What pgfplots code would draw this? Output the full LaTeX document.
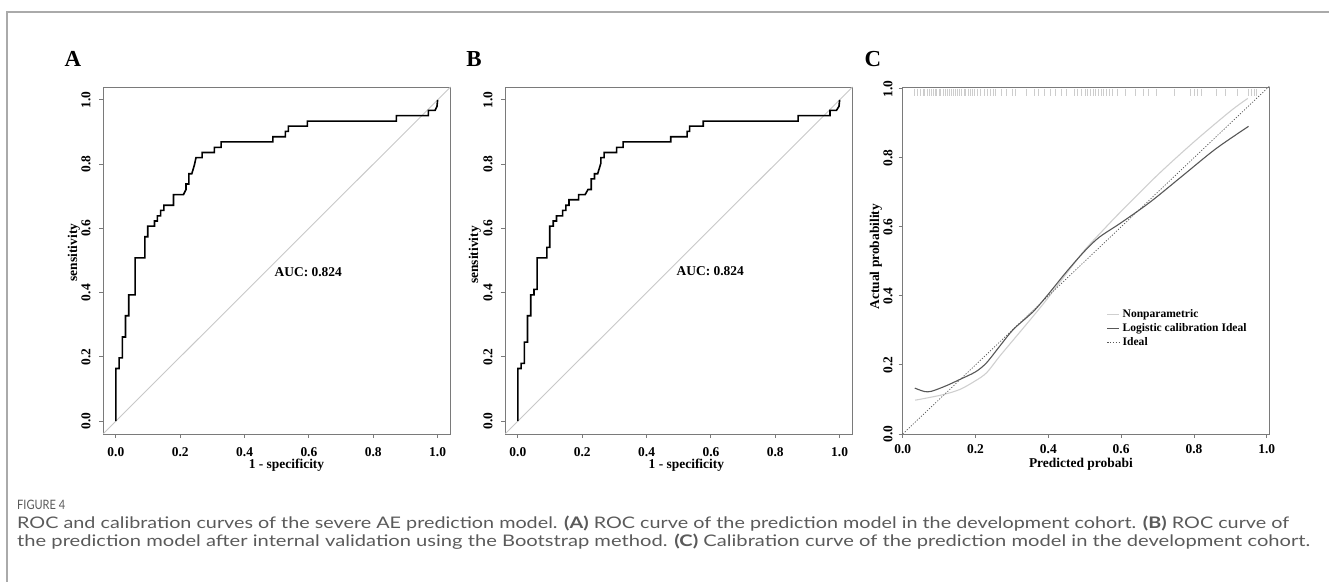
\documentclass[border=0pt]{standalone}
\usepackage{fontspec}
\setmainfont{Liberation Serif}
\newfontfamily\capfont{Lato}
\usepackage{graphicx}
\usepackage{pgfplots}
\pgfplotsset{compat=1.18}
\definecolor{axgray}{HTML}{7A7A7A}
\definecolor{diaggray}{HTML}{C8C8C8}
\definecolor{framegray}{HTML}{AAAAAA}
\definecolor{capgray}{HTML}{5A5A5A}
\definecolor{npgray}{HTML}{CFCFCF}
\definecolor{lggray}{HTML}{575757}
\definecolor{ruggray}{HTML}{CDCDCD}

\pgfplotsset{
  basestyle/.style={
    scale only axis,
    axis line style={axgray, line width=0.9bp},
    tick style={axgray, line width=0.9bp},
    tick align=outside,
    major tick length=4bp,
    xtick pos=bottom, ytick pos=left,
    xtick={0,0.2,0.4,0.6,0.8,1.0},
    ytick={0,0.2,0.4,0.6,0.8,1.0},
    xticklabels={0.0,0.2,0.4,0.6,0.8,1.0},
    yticklabels={0.0,0.2,0.4,0.6,0.8,1.0},
    ticklabel style={font=\fontsize{13.5}{14}\selectfont\bfseries},
    label style={font=\fontsize{13.5}{14}\selectfont\bfseries},
  },
  rocstyle/.style={
    basestyle,
    width=347.5bp, height=347bp,
    xmin=-0.04, xmax=1.04, ymin=-0.04, ymax=1.04,
    xticklabel style={anchor=center, yshift=-14.3bp},
    yticklabel style={xshift=-13bp, rotate=90, anchor=center},
    xlabel={1 - specificity},
    ylabel={sensitivity},
  },
}

\begin{document}
\begin{tikzpicture}
\path[use as bounding box] (0,0) rectangle (1329bp,582bp);
\draw[framegray, line width=1.5bp] (7bp,0) -- (7bp,570bp) -- (1329bp,570bp);

\node[anchor=base, font=\fontsize{23}{24}\selectfont\bfseries] at (73bp,515.3bp) {A};
\node[anchor=base, font=\fontsize{23}{24}\selectfont\bfseries] at (474bp,515.3bp) {B};
\node[anchor=base, font=\fontsize{23}{24}\selectfont\bfseries] at (873bp,515.3bp) {C};

% ---------------- Panel A ----------------
\begin{axis}[rocstyle, at={(103bp,148bp)}, anchor=south west,
  xlabel style={at={(axis description cs:0.528,-0.0913)}, anchor=center},
  ylabel style={at={(axis description cs:-0.0834,0.523)}, anchor=center}]
\addplot[diaggray, line width=0.9bp] coordinates {(-0.04,-0.04) (1.04,1.04)};
\addplot[black, line width=1.6bp, line join=miter] coordinates {
(0,0) (0,0.164) (0.010,0.164) (0.010,0.197) (0.020,0.197) (0.020,0.262)
(0.030,0.262) (0.030,0.328) (0.040,0.328) (0.040,0.393) (0.060,0.393)
(0.060,0.508) (0.090,0.508) (0.090,0.574) (0.099,0.574) (0.099,0.607)
(0.120,0.607) (0.120,0.623) (0.129,0.623) (0.129,0.639) (0.139,0.639)
(0.139,0.656) (0.149,0.656) (0.149,0.672) (0.179,0.672) (0.179,0.705)
(0.210,0.705) (0.218,0.721) (0.218,0.738) (0.227,0.738) (0.227,0.770)
(0.236,0.770) (0.244,0.797) (0.249,0.820) (0.268,0.820) (0.268,0.836)
(0.306,0.836) (0.306,0.852) (0.327,0.852) (0.327,0.869) (0.488,0.869)
(0.488,0.885) (0.527,0.885) (0.527,0.902) (0.536,0.902) (0.536,0.918)
(0.595,0.918) (0.595,0.934) (0.872,0.934) (0.872,0.951) (0.971,0.951)
(0.971,0.967) (0.992,0.967) (0.998,0.980) (1.0,1.0)};
\node[font=\fontsize{13.5}{14}\selectfont\bfseries] at (axis cs:0.598,0.464) {AUC: 0.824};
\end{axis}

% ---------------- Panel B ----------------
\begin{axis}[rocstyle, at={(505bp,148bp)}, anchor=south west,
  xlabel style={at={(axis description cs:0.522,-0.0913)}, anchor=center},
  ylabel style={at={(axis description cs:-0.0864,0.516)}, anchor=center}]
\addplot[diaggray, line width=0.9bp] coordinates {(-0.04,-0.04) (1.04,1.04)};
\addplot[black, line width=1.6bp, line join=miter] coordinates {
(0,0) (0,0.164) (0.010,0.164) (0.010,0.180) (0.020,0.180) (0.020,0.246)
(0.030,0.246) (0.030,0.328) (0.040,0.328) (0.040,0.393) (0.050,0.393)
(0.050,0.410) (0.060,0.410) (0.060,0.508) (0.090,0.508) (0.090,0.541)
(0.099,0.541) (0.099,0.607) (0.110,0.607) (0.110,0.623) (0.120,0.623)
(0.120,0.639) (0.139,0.639) (0.139,0.656) (0.149,0.656) (0.149,0.672)
(0.159,0.672) (0.159,0.689) (0.189,0.689) (0.189,0.705) (0.209,0.705)
(0.218,0.721) (0.228,0.721) (0.228,0.754) (0.238,0.754) (0.238,0.770)
(0.248,0.770) (0.258,0.803) (0.258,0.820) (0.268,0.820) (0.268,0.836)
(0.307,0.836) (0.307,0.852) (0.327,0.852) (0.327,0.869) (0.475,0.869)
(0.475,0.885) (0.526,0.885) (0.526,0.902) (0.534,0.902) (0.534,0.918)
(0.576,0.918) (0.576,0.934) (0.871,0.934) (0.871,0.951) (0.970,0.951)
(0.970,0.967) (0.990,0.967) (0.998,0.980) (1.0,1.0)};
\node[font=\fontsize{13.5}{14}\selectfont\bfseries] at (axis cs:0.598,0.467) {AUC: 0.824};
\end{axis}

% ---------------- Panel C ----------------
\begin{axis}[basestyle, at={(902.7bp,148bp)}, anchor=south west,
  width=366.6bp, height=347bp,
  xmin=0, xmax=1.007, ymin=0, ymax=1.005,
  xticklabel style={anchor=center, yshift=-11bp},
  yticklabel style={xshift=-10.7bp, rotate=90, anchor=center},
  xlabel={Predicted probabi},
  ylabel={Actual probability},
  xlabel style={at={(axis description cs:0.486,-0.0865)}, anchor=center},
  ylabel style={at={(axis description cs:-0.0728,0.511)}, anchor=center},
  legend cell align=left,
  legend style={at={(axis cs:0.56,0.365)}, anchor=north west, draw=none, fill=none,
    inner sep=0pt, row sep=2.2bp, column sep=2bp,
    font=\fontsize{11.6}{12}\selectfont\bfseries,
    nodes={inner sep=1.2bp}},
  legend image code/.code={\draw[#1] (0bp,0bp) -- (11.6bp,0bp);},
]
\addplot[only marks, mark=|, mark size=3.6bp, mark options={ruggray, line width=0.45bp}, forget plot] coordinates {
(0.032,0.99) (0.040,0.99) (0.048,0.99) (0.055,0.99) (0.060,0.99) (0.066,0.99)
(0.072,0.99) (0.078,0.99) (0.083,0.99) (0.088,0.99) (0.093,0.99) (0.099,0.99)
(0.104,0.99) (0.110,0.99) (0.116,0.99) (0.121,0.99) (0.127,0.99) (0.133,0.99)
(0.139,0.99) (0.144,0.99) (0.150,0.99) (0.156,0.99) (0.162,0.99) (0.168,0.99)
(0.173,0.99) (0.179,0.99) (0.185,0.99) (0.190,0.99) (0.196,0.99) (0.205,0.99)
(0.212,0.99) (0.225,0.99) (0.232,0.99) (0.240,0.99) (0.248,0.99) (0.255,0.99)
(0.270,0.99) (0.285,0.99) (0.300,0.99) (0.310,0.99) (0.338,0.99) (0.360,0.99)
(0.372,0.99) (0.390,0.99) (0.405,0.99) (0.420,0.99) (0.435,0.99) (0.448,0.99)
(0.470,0.99) (0.478,0.99) (0.490,0.99) (0.500,0.99) (0.508,0.99) (0.515,0.99)
(0.523,0.99) (0.530,0.99) (0.538,0.99) (0.545,0.99) (0.552,0.99) (0.560,0.99)
(0.568,0.99) (0.575,0.99) (0.590,0.99) (0.610,0.99) (0.640,0.99) (0.660,0.99)
(0.675,0.99) (0.695,0.99) (0.745,0.99) (0.790,0.99) (0.800,0.99) (0.810,0.99)
(0.820,0.99) (0.860,0.99) (0.885,0.99) (0.920,0.99) (0.950,0.99) (0.958,0.99)
(0.965,0.99) (0.972,0.99)};
\addplot[npgray, line width=1.1bp, smooth] coordinates {
(0.034,0.098) (0.060,0.103) (0.111,0.114) (0.157,0.129) (0.198,0.153)
(0.230,0.177) (0.267,0.226) (0.313,0.284) (0.359,0.342) (0.396,0.390)
(0.450,0.465) (0.500,0.533) (0.550,0.590) (0.600,0.645) (0.700,0.750)
(0.800,0.846) (0.900,0.935) (0.948,0.972)};
\addlegendentry{Nonparametric}
\addplot[lggray, line width=1.1bp, smooth] coordinates {
(0.033,0.133) (0.060,0.123) (0.080,0.124) (0.120,0.140) (0.157,0.158)
(0.200,0.180) (0.230,0.206) (0.267,0.255) (0.304,0.303) (0.359,0.355)
(0.400,0.405) (0.450,0.470) (0.500,0.530) (0.540,0.570) (0.600,0.612)
(0.680,0.672) (0.770,0.749) (0.860,0.826) (0.950,0.891)};
\addlegendentry{Logistic calibration Ideal}
\addplot[lggray, line width=0.7bp, dash pattern=on 1.2bp off 1.6bp] coordinates {(0,0) (1.01,1.01)};
\addlegendentry{Ideal}
\end{axis}

% ---------------- Caption ----------------
\node[anchor=west, inner sep=0pt, text=capgray] at (17bp,77bp)
  {\resizebox{48bp}{\height}{\capfont\fontsize{13}{14}\selectfont FIGURE 4}};
\node[anchor=west, inner sep=0pt, text=capgray] at (17bp,58.7bp)
  {\resizebox{1272bp}{\height}{\capfont\fontsize{16}{17}\selectfont ROC and calibration curves of the severe AE prediction model. \textbf{(A)} ROC curve of the prediction model in the development cohort. \textbf{(B)} ROC curve of}};
\node[anchor=west, inner sep=0pt, text=capgray] at (17bp,40.3bp)
  {\resizebox{1293bp}{\height}{\capfont\fontsize{16}{17}\selectfont the prediction model after internal validation using the Bootstrap method. \textbf{(C)} Calibration curve of the prediction model in the development cohort.}};
\end{tikzpicture}
\end{document}
